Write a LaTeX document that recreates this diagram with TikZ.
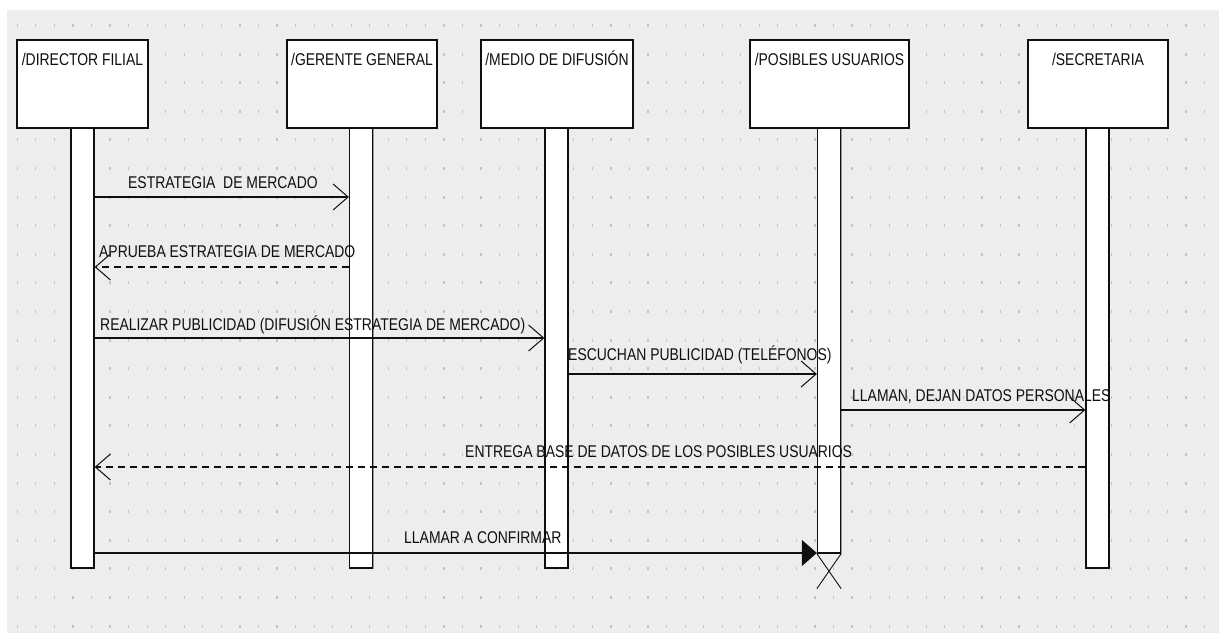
\documentclass[tikz,border=0pt]{standalone}
\usepackage{fontspec}
\newfontfamily\umlfont[FakeStretch=0.82]{Liberation Sans}
\usetikzlibrary{arrows.meta,calc}
\definecolor{bgcol}{RGB}{237,237,237}
\definecolor{dotcol}{RGB}{195,195,195}
\definecolor{ink}{RGB}{15,15,15}
\tikzset{
  boxshadow/.style={preaction={fill=black!40, transform canvas={shift={(1.4pt,-1.4pt)}}}},
  actor/.style={rectangle, draw=ink, line width=1.3pt, fill=white, inner sep=0pt, boxshadow},
  bar/.style={rectangle, draw=ink, line width=1.3pt, fill=white, inner sep=0pt, minimum width=23pt, boxshadow},
  title/.style={inner sep=0pt, anchor=base, text=ink, font=\umlfont\fontsize{17}{19}\selectfont},
  lbl/.style={inner sep=0pt, anchor=base west, text=ink, font=\umlfont\fontsize{17}{19}\selectfont},
  msg/.style={draw=ink, line width=1.2pt, -{Straight Barb[length=15pt,width=26pt,line width=1pt]}},
  reply/.style={msg, dash pattern=on 7pt off 5pt},
  callmsg/.style={draw=ink, line width=1.2pt, -{Triangle[length=15pt,width=26pt]}},
  destroy/.style={draw=ink, line width=0.9pt}
}
\begin{document}
\begin{tikzpicture}[x=1pt,y=-1pt]
\useasboundingbox (0,0) rectangle (1219,633);
\fill[white] (0,0) rectangle (1219,633);
\fill[bgcol] (7,10) rectangle (1219,633);
\foreach \i in {0,...,64}{
  \foreach \j in {0,...,21}{
    \fill[dotcol] ({17.3+18.55*\i-0.6},{25.4+28.6*\j-1.5}) rectangle ++(1.2,3);
  }
}
% actors
\node[actor, minimum width=131pt, minimum height=88pt] (dir) at (82.5,84) {};
\node[actor, minimum width=150pt, minimum height=88pt] (ger) at (362,84) {};
\node[actor, minimum width=152pt, minimum height=88pt] (med) at (557,84) {};
\node[actor, minimum width=159pt, minimum height=88pt] (pos) at (829.5,84) {};
\node[actor, minimum width=140pt, minimum height=88pt] (sec) at (1098,84) {};
\node[title] (dirT) at (dir.north |- 0,65) {/DIRECTOR FILIAL};
\node[title] (gerT) at (ger.north |- 0,65) {/GERENTE GENERAL};
\node[title] (medT) at (med.north |- 0,65) {/MEDIO DE DIFUSIÓN};
\node[title] (posT) at (pos.north |- 0,65) {/POSIBLES USUARIOS};
\node[title] (secT) at (sec.north |- 0,65) {/SECRETARIA};
% activation bars
\node[bar, minimum height=440pt] (dirB) at (82.5,348) {};
\node[bar, minimum height=440pt] (gerB) at (361,348) {};
\node[bar, minimum height=440pt] (medB) at (556.5,348) {};
\node[bar, minimum height=425pt] (posB) at (829,340.5) {};
\node[bar, minimum height=440pt] (secB) at (1097.5,348) {};
% messages
\draw[msg] (dirB.east |- 0,197) -- (gerB.west |- 0,197);
\draw[reply] (gerB.west |- 0,267) -- (dirB.east |- 0,267);
\draw[msg] (dirB.east |- 0,338) -- (medB.west |- 0,338);
\draw[msg] (medB.east |- 0,374) -- (posB.west |- 0,374);
\draw[msg] (posB.east |- 0,410) -- (secB.west |- 0,410);
\draw[reply] (secB.west |- 0,467) -- (dirB.east |- 0,467);
\draw[callmsg] (dirB.east |- 0,553) -- (posB.west |- 0,553);
% destruction mark
\coordinate (xend1) at ($(posB.south east)+(0,35)$);
\coordinate (xend2) at ($(posB.south west)+(0,35)$);
\draw[destroy] (posB.south west) -- (xend1);
\draw[destroy] (posB.south east) -- (xend2);
% labels
\node[lbl] (l1) at (128,188) {ESTRATEGIA\ \ DE MERCADO};
\node[lbl] (l2) at (99,257) {APRUEBA ESTRATEGIA DE MERCADO};
\node[lbl] (l3) at (100,330) {REALIZAR PUBLICIDAD (DIFUSIÓN ESTRATEGIA DE MERCADO)};
\node[lbl] (l4) at (568,360) {ESCUCHAN PUBLICIDAD (TELÉFONOS)};
\node[lbl] (l5) at (852,401) {LLAMAN, DEJAN DATOS PERSONALES};
\node[lbl] (l6) at (465,457) {ENTREGA BASE DE DATOS DE LOS POSIBLES USUARIOS};
\node[lbl] (l7) at (404,543) {LLAMAR A CONFIRMAR};
\end{tikzpicture}
\end{document}
